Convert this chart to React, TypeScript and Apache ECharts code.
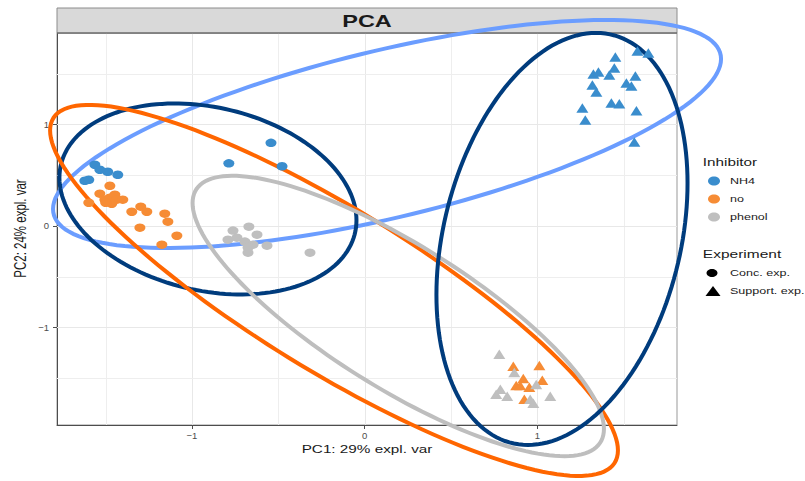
import React, { useEffect, useRef } from "react";
import * as echarts from "echarts";

// ---------- layout constants ----------
const WIDTH = 805;
const HEIGHT = 481;
const GRID = { left: 57, right: 128, top: 33, bottom: 56 };
const FONT = "'Liberation Sans', Arial, Helvetica, sans-serif";

// ---------- axes ----------
const xRange = [-1.781, 1.809];
const yRange = [-1.961, 1.901];
const xTicks = [-1, 0, 1];
const yTicks = [-1, 0, 1];
const xMinorGrid = [-1.5, -0.5, 0.5, 1.5];
const yMinorGrid = [-1.5, -0.5, 0.5, 1.5];
const xTitle = "PC1: 29% expl. var";
const yTitle = "PC2: 24% expl. var";
const chartTitle = "PCA";

// ---------- groups ----------
const inhibitors = ["NH4", "no", "phenol"];
const inhibitorColors = ["#3a8dcd", "#f68c35", "#bfbfbf"];
const experiments = ["Conc. exp.", "Support. exp."];

// ---------- points [PC1, PC2] ----------
const nh4Conc = [
  [-1.562, 0.603], [-1.533, 0.554], [-1.487, 0.534], [-1.429, 0.504],
  [-1.62, 0.445], [-1.597, 0.455], [-0.542, 0.819], [-0.786, 0.617], [-0.478, 0.588],
];
const nh4Support = [
  [1.58, 1.723], [1.643, 1.704], [1.452, 1.664], [1.446, 1.556], [1.325, 1.497],
  [1.354, 1.517], [1.417, 1.488], [1.568, 1.478], [1.516, 1.409], [1.545, 1.379],
  [1.319, 1.389], [1.342, 1.32], [1.429, 1.212], [1.475, 1.203], [1.574, 1.134],
  [1.261, 1.163], [1.278, 1.045], [1.562, 0.828],
];
const noConc = [
  [-1.475, 0.396], [-1.533, 0.318], [-1.504, 0.259], [-1.475, 0.278], [-1.446, 0.308],
  [-1.435, 0.259], [-1.4, 0.259], [-1.464, 0.219], [-1.499, 0.229], [-1.597, 0.229],
  [-1.348, 0.14], [-1.296, 0.19], [-1.261, 0.14], [-1.157, 0.121], [-1.139, 0.042],
  [-1.301, -0.017], [-1.087, -0.096], [-1.174, -0.184],
];
const noSupport = [
  [0.861, -1.383], [1.012, -1.374], [0.919, -1.502], [0.878, -1.571],
  [1.029, -1.521], [0.954, -1.59], [0.925, -1.708], [0.901, -1.571],
];
const phenolConc = [
  [-0.67, -0.007], [-0.762, -0.046], [-0.623, -0.086], [-0.791, -0.135],
  [-0.739, -0.115], [-0.693, -0.154], [-0.646, -0.184], [-0.565, -0.194],
  [-0.675, -0.213], [-0.675, -0.263], [-0.316, -0.263],
];
const phenolSupport = [
  [0.78, -1.265], [0.867, -1.443], [0.786, -1.61], [0.762, -1.659], [0.826, -1.678],
  [0.994, -1.561], [1.075, -1.678], [0.977, -1.747], [0.959, -1.708],
];

// ---------- confidence ellipses (centre, horizontal half-width,
// y-offset of rightmost point, vertical half-chord through centre) ----------
const ellipseCx = [0.13, -0.907, -0.177, 0.195, 1.143];
const ellipseCy = [0.906, 0.266, -0.635, -0.887, -0.128];
const ellipseRx = [1.934, 0.86, 1.644, 1.191, 0.727];
const ellipseDy = [0.739, -0.209, -1.576, -1.113, 0.55];
const ellipseVh = [0.846, 0.917, 0.926, 0.818, 1.954];
const ellipseColors = ["#6b9dff", "#003c7d", "#ff6600", "#bebebe", "#003c7d"];

const CIRCLE_SIZE = [11, 8.5];
const TRIANGLE_SIZE = [12, 9.5];

const fmt = (v: number) => (v < 0 ? "\u2212" + Math.abs(v) : String(v));

function buildOption() {
  const panelRight = WIDTH - GRID.right;
  const panelW = panelRight - GRID.left;
  const midX = GRID.left + panelW / 2;

  const groups = [
    [nh4Conc, nh4Support],
    [noConc, noSupport],
    [phenolConc, phenolSupport],
  ];

  const scatterSeries = inhibitors.map((name, i) => ({
    type: "scatter",
    name,
    z: 4,
    clip: false,
    itemStyle: { color: inhibitorColors[i], opacity: 1 },
    emphasis: { disabled: true },
    data: [
      ...groups[i][0].map((p) => ({ value: p, symbol: "circle", symbolSize: CIRCLE_SIZE })),
      ...groups[i][1].map((p) => ({ value: p, symbol: "triangle", symbolSize: TRIANGLE_SIZE })),
    ],
  }));

  // grid lines drawn through the axes' scales
  const vLines = [
    ...xTicks.map((v) => [v, yRange[0], yRange[1], 1]),
    ...xMinorGrid.map((v) => [v, yRange[0], yRange[1], 0]),
  ];
  const hLines = [
    ...yTicks.map((v) => [xRange[0], xRange[1], v, 1]),
    ...yMinorGrid.map((v) => [xRange[0], xRange[1], v, 0]),
  ];
  const gridStyle = (major: number) => ({
    stroke: major ? "#e8e8e8" : "#eeeeee",
    lineWidth: 1,
  });
  const vGridSeries = {
    type: "custom",
    name: "vgrid",
    z: 1,
    silent: true,
    clip: false,
    encode: { x: 0, y: 1 },
    data: vLines,
    renderItem: (params: any, api: any) => {
      const a = api.coord([api.value(0), api.value(1)]);
      const b = api.coord([api.value(0), api.value(2)]);
      const x = Math.round(a[0]) + 0.5;
      return {
        type: "line",
        shape: { x1: x, y1: a[1], x2: x, y2: b[1] },
        style: gridStyle(api.value(3)),
      };
    },
  };
  const hGridSeries = {
    type: "custom",
    name: "hgrid",
    z: 1,
    silent: true,
    clip: false,
    encode: { x: 0, y: 2 },
    data: hLines,
    renderItem: (params: any, api: any) => {
      const a = api.coord([api.value(0), api.value(2)]);
      const b = api.coord([api.value(1), api.value(2)]);
      const y = Math.round(a[1]) + 0.5;
      return {
        type: "line",
        shape: { x1: a[0], y1: y, x2: b[0], y2: y },
        style: gridStyle(api.value(3)),
      };
    },
  };

  const ellipseData = ellipseCx.map((cx, i) => [cx, ellipseCy[i], ellipseRx[i], ellipseDy[i], ellipseVh[i]]);

  const ellipseSeries = {
    type: "custom",
    name: "ellipses",
    z: 3,
    clip: false,
    silent: true,
    encode: { x: 0, y: 1 },
    data: ellipseData,
    renderItem: (params: any, api: any) => {
      const cx = api.value(0);
      const cy = api.value(1);
      const rx = api.value(2);
      const dy = api.value(3);
      const vh = api.value(4);
      const pts: number[][] = [];
      const n = 160;
      for (let k = 0; k < n; k++) {
        const t = (k / n) * Math.PI * 2;
        pts.push(api.coord([cx + rx * Math.cos(t), cy + dy * Math.cos(t) + vh * Math.sin(t)]));
      }
      return {
        type: "polygon",
        shape: { points: pts },
        style: { fill: "none", stroke: ellipseColors[params.dataIndex], lineWidth: 4 },
      };
    },
  };

  const txt = (text: string, x: number, y: number, size: number, sx: number, extra: any = {}) => ({
    type: "text",
    x,
    y,
    scaleX: sx,
    z: 10,
    style: {
      text,
      fontSize: size,
      fontFamily: FONT,
      fill: "#1a1a1a",
      align: "left",
      textAlign: "left",
      verticalAlign: "middle",
      textVerticalAlign: "middle",
      ...extra,
    },
  });

  const legendY = [181, 199, 217];

  const graphic: any[] = [
    // facet strip
    {
      type: "rect",
      z: 2,
      shape: { x: GRID.left, y: 8, width: panelW, height: GRID.top - 8 },
      style: { fill: "#d9d9d9", stroke: "#8c8c8c", lineWidth: 1 },
    },
    {
      type: "line",
      z: 2,
      shape: { x1: GRID.left, y1: GRID.top, x2: panelRight, y2: GRID.top },
      style: { stroke: "#595959", lineWidth: 1 },
    },
    txt(chartTitle, midX, 21, 17, 1.38, { fontWeight: "bold", align: "center", textAlign: "center" }),
    // axis titles
    txt(xTitle, midX, 449, 11, 1.39, { align: "center", textAlign: "center" }),
    {
      type: "text",
      x: 20.5,
      y: 228.5,
      rotation: Math.PI / 2,
      scaleY: 1.39,
      z: 10,
      style: {
        text: yTitle,
        fontSize: 11.5,
        fontFamily: FONT,
        fill: "#1a1a1a",
        align: "center",
        textAlign: "center",
        verticalAlign: "middle",
        textVerticalAlign: "middle",
      },
    },
    // legend: Inhibitor
    txt("Inhibitor", 702.8, 162.6, 11, 1.39),
    ...inhibitors.map((name, i) => ({
      type: "ellipse",
      z: 10,
      shape: { cx: 714, cy: legendY[i], rx: 6, ry: 4.6 },
      style: { fill: inhibitorColors[i] },
    })),
    ...inhibitors.map((name, i) => txt(name, 730, legendY[i], 9.5, 1.32)),
    // legend: Experiment
    txt("Experiment", 702.8, 254.5, 11, 1.41),
    {
      type: "ellipse",
      z: 10,
      shape: { cx: 712, cy: 273, rx: 5.5, ry: 4 },
      style: { fill: "#000000" },
    },
    {
      type: "polygon",
      z: 10,
      shape: { points: [[705.5, 296], [720.5, 296], [713, 286]] },
      style: { fill: "#000000" },
    },
    txt(experiments[0], 730, 273, 9.5, 1.32),
    txt(experiments[1], 730, 291, 9.5, 1.32),
  ];

  const axisCommon = {
    type: "value",
    axisLine: { show: true, onZero: false, lineStyle: { color: "#4d4d4d", width: 1 } },
    splitLine: { show: false },
  };

  return {
    animation: false,
    backgroundColor: "#ffffff",
    grid: {
      left: GRID.left,
      right: GRID.right,
      top: GRID.top,
      bottom: GRID.bottom,
      containLabel: false,
      outerBoundsMode: "none",
      show: true,
      borderColor: "#999999",
      borderWidth: 1,
      backgroundColor: "transparent",
    },
    xAxis: {
      ...axisCommon,
      min: xRange[0],
      max: xRange[1],
      axisTick: { show: true, length: 4, customValues: xTicks, lineStyle: { color: "#4d4d4d" } },
      axisLabel: {
        customValues: xTicks,
        formatter: (v: number) => fmt(v),
        fontSize: 9.5,
        fontFamily: FONT,
        color: "#4d4d4d",
        margin: 5,
      },
    },
    yAxis: {
      ...axisCommon,
      min: yRange[0],
      max: yRange[1],
      axisTick: { show: true, length: 4, customValues: yTicks, lineStyle: { color: "#4d4d4d" } },
      axisLabel: {
        customValues: yTicks,
        formatter: (v: number) => fmt(v),
        fontSize: 9.5,
        fontFamily: FONT,
        color: "#4d4d4d",
        margin: 8,
      },
    },
    graphic,
    series: [vGridSeries, hGridSeries, ellipseSeries, ...scatterSeries],
  };
}

export default function App() {
  const ref = useRef<HTMLDivElement>(null);
  useEffect(() => {
    if (!ref.current) return;
    const chart = echarts.init(ref.current, undefined, { renderer: "svg", width: WIDTH, height: HEIGHT });
    chart.setOption(buildOption() as any);
    return () => chart.dispose();
  }, []);
  return (
    <div
      ref={ref}
      style={{ position: "absolute", left: 0, top: 0, width: WIDTH, height: HEIGHT, background: "#fff" }}
    />
  );
}
